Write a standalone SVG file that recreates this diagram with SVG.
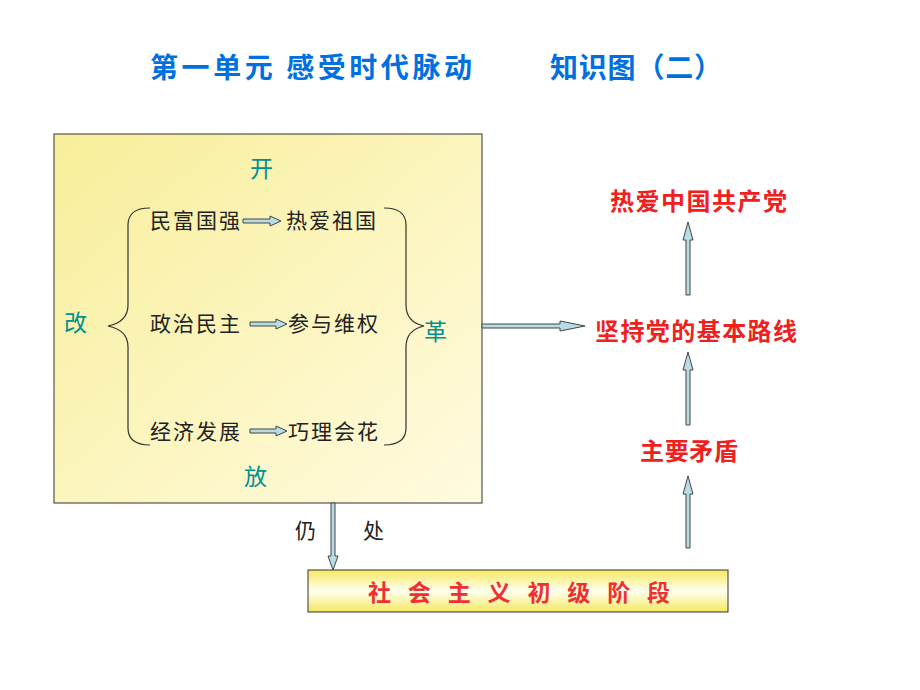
<svg xmlns="http://www.w3.org/2000/svg" width="920" height="690" viewBox="0 0 920 690">
<style>
.t{font-family:"Noto Sans CJK SC",sans-serif;}
.h{font-size:28px;font-weight:bold;fill:#0070e0;}
.k{font-size:21px;fill:#222;}
.g{font-size:23px;fill:#009090;}
.r{font-size:24px;fill:#f02020;font-weight:bold;}
.ar{fill:#b8dce4;stroke:#444;stroke-width:1;}
.br{fill:none;stroke:#333;stroke-width:1.2;}
</style>
<defs>
<linearGradient id="gm" x1="0" y1="0" x2="1" y2="1"><stop offset="0" stop-color="#f8ee9a"/><stop offset="1" stop-color="#fffbe0"/></linearGradient>
<linearGradient id="gb" x1="0" y1="0" x2="0" y2="1"><stop offset="0" stop-color="#f5e860"/><stop offset="0.5" stop-color="#fffff0"/><stop offset="1" stop-color="#f5e860"/></linearGradient>
</defs>
<g id="title" class="t h"><text x="150" y="78" textLength="322">第一单元  感受时代脉动</text><text x="550" y="78" textLength="172">知识图（二）</text></g>
<g id="main">
<rect x="54" y="134" width="428" height="369" fill="url(#gm)" stroke="#333" stroke-width="1"/>
<g class="t g"><text x="250" y="177">开</text><text x="64" y="331">改</text><text x="424" y="340">革</text><text x="244" y="485">放</text></g>
<g class="t k"><text x="150" y="228" textLength="90">民富国强</text><text x="286" y="228" textLength="90">热爱祖国</text>
<text x="150" y="331" textLength="90">政治民主</text><text x="288" y="331" textLength="90">参与维权</text>
<text x="150" y="439" textLength="90">经济发展</text><text x="288" y="439" textLength="90">巧理会花</text></g>
<path class="br" d="M150,208 Q128,208 128,225 L128,305 Q128,322 108,326 Q128,330 128,347 L128,428 Q128,445 150,445"/>
<path class="br" d="M384,208 Q406,208 406,225 L406,305 Q406,322 424,326 Q406,330 406,347 L406,428 Q406,445 384,445"/>
</g>
<g id="bottom"><rect x="308" y="570" width="420" height="42" fill="url(#gb)" stroke="#333" stroke-width="1"/>
<text class="t" x="368" y="601" textLength="302" font-size="23" font-weight="bold" fill="#f03030">社会主义初级阶段</text></g>
<g id="right" class="t r"><text x="610" y="210" textLength="177">热爱中国共产党</text><text x="595" y="340" textLength="202">坚持党的基本路线</text><text x="640" y="460" textLength="98">主要矛盾</text></g>
<g id="labels" class="t" font-size="21" fill="#222"><text x="295" y="538">仍</text><text x="363" y="538">处</text></g>
<g id="connectors">
<polygon class="ar" points="243,219 270,219 270,216 281,221 270,226 270,223 243,223"/>
<polygon class="ar" points="250,322 276,322 276,319 287,324 276,329 276,326 250,326"/>
<polygon class="ar" points="250,429 276,429 276,426 287,431 276,436 276,433 250,433"/>
<polygon class="ar" points="482,324 560,324 560,321 585,326 560,331 560,328 482,328"/>
<polygon class="ar" points="331,503 335,503 335,556 338,556 333,570 328,556 331,556"/>
<polygon class="ar" points="686,295 690,295 690,240 693,240 688,222 683,240 686,240"/>
<polygon class="ar" points="686,425 690,425 690,370 693,370 688,352 683,370 686,370"/>
<polygon class="ar" points="686,548 690,548 690,494 693,494 688,476 683,494 686,494"/>
</g>
</svg>
